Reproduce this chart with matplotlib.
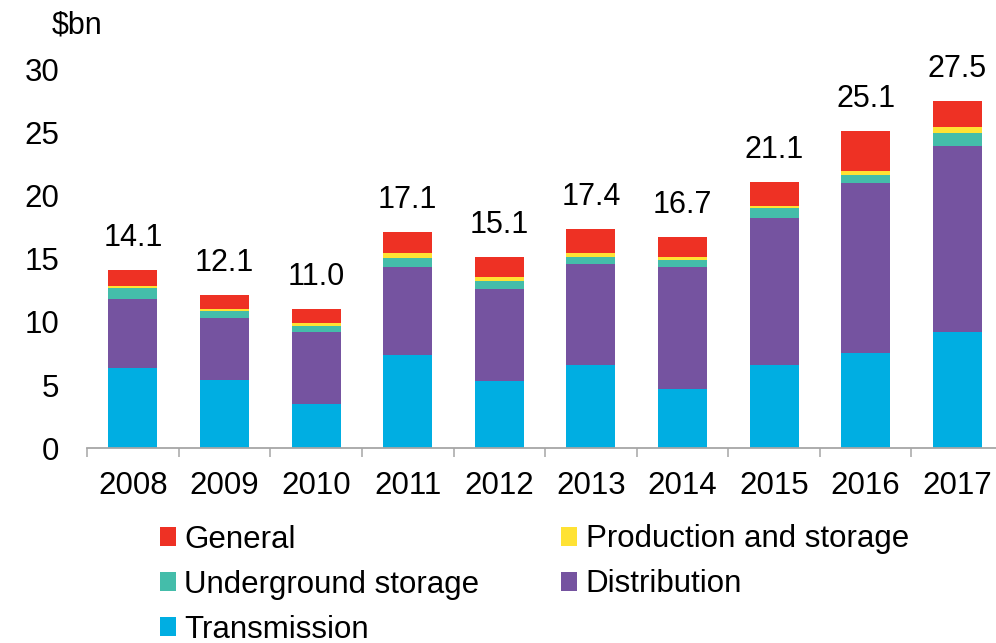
import matplotlib
matplotlib.use("Agg")
import matplotlib.pyplot as plt
import numpy as np
from matplotlib.ticker import FixedLocator

plt.rcParams['font.family'] = ['Liberation Sans', 'DejaVu Sans']

years = ['2008', '2009', '2010', '2011', '2012', '2013', '2014', '2015', '2016', '2017']

# Capital expenditure by segment, $bn
transmission = [6.38, 5.38, 3.50, 7.41, 5.30, 6.57, 4.67, 6.59, 7.54, 9.18]
distribution = [5.41, 4.93, 5.67, 6.96, 7.33, 7.99, 9.68, 11.60, 13.47, 14.76]
underground = [0.87, 0.55, 0.52, 0.71, 0.61, 0.60, 0.58, 0.79, 0.59, 0.98]
production = [0.20, 0.13, 0.19, 0.35, 0.32, 0.32, 0.21, 0.18, 0.36, 0.50]
general = [1.24, 1.13, 1.11, 1.66, 1.56, 1.90, 1.59, 1.92, 3.16, 2.08]

series = [
    ('Transmission', transmission, '#00AEE2'),
    ('Distribution', distribution, '#7553A0'),
    ('Underground storage', underground, '#44BDAA'),
    ('Production and storage', production, '#FFE234'),
    ('General', general, '#EE3124'),
]

W, H = 996, 643
fig = plt.figure(figsize=(W / 100, H / 100), dpi=100)
ax = fig.add_axes([87.2 / W, 1 - 448.3 / H, (1003 - 87.2) / W, (448.3 - 69.1) / H])

x = np.arange(len(years))
bottom = np.zeros(len(years))
handles = {}
for name, vals, color in series:
    vals = np.array(vals)
    bars = ax.bar(x, vals, width=0.535, bottom=bottom, color=color,
                  edgecolor='none', label=name, zorder=2)
    handles[name] = bars
    bottom += vals

for xi, total in zip(x, bottom):
    ax.annotate(f'{total:.1f}', xy=(xi, total), xytext=(0, 23),
                textcoords='offset points', ha='center', va='center',
                fontsize=22, color='black', annotation_clip=False)

ax.set_xlim(-0.5, len(years) - 0.5)
ax.set_ylim(0, 30)
ax.set_yticks(np.arange(0, 31, 5))
ax.set_xticks(x)
ax.set_xticklabels(years)
ax.xaxis.set_minor_locator(FixedLocator(np.arange(-0.5, len(years), 1.0)))

for side in ('top', 'right', 'left'):
    ax.spines[side].set_visible(False)
ax.spines['bottom'].set_color('#A6A6A6')
ax.spines['bottom'].set_linewidth(1.3)

ax.tick_params(axis='x', which='major', length=0, pad=16.5, labelsize=22.5)
ax.tick_params(axis='x', which='minor', length=6.5, width=1.1, color='#A6A6A6', direction='out')
ax.tick_params(axis='y', which='major', length=0, pad=20, labelsize=22.5)

fig.text(52 / W, 1 - 33 / H, '$bn', fontsize=22, ha='left', va='baseline')

order = ['General', 'Underground storage', 'Transmission',
         'Production and storage', 'Distribution']
fig.legend([handles[n] for n in order], order, ncol=2, loc='upper left',
           bbox_to_anchor=(159.5 / W, 1 - 524.5 / H), frameon=False,
           fontsize=22.5, handlelength=0.53, handleheight=0.54,
           handletextpad=0.26, columnspacing=2.61, labelspacing=0.48,
           borderpad=0, borderaxespad=0)

fig.savefig('out.png', dpi=100)
